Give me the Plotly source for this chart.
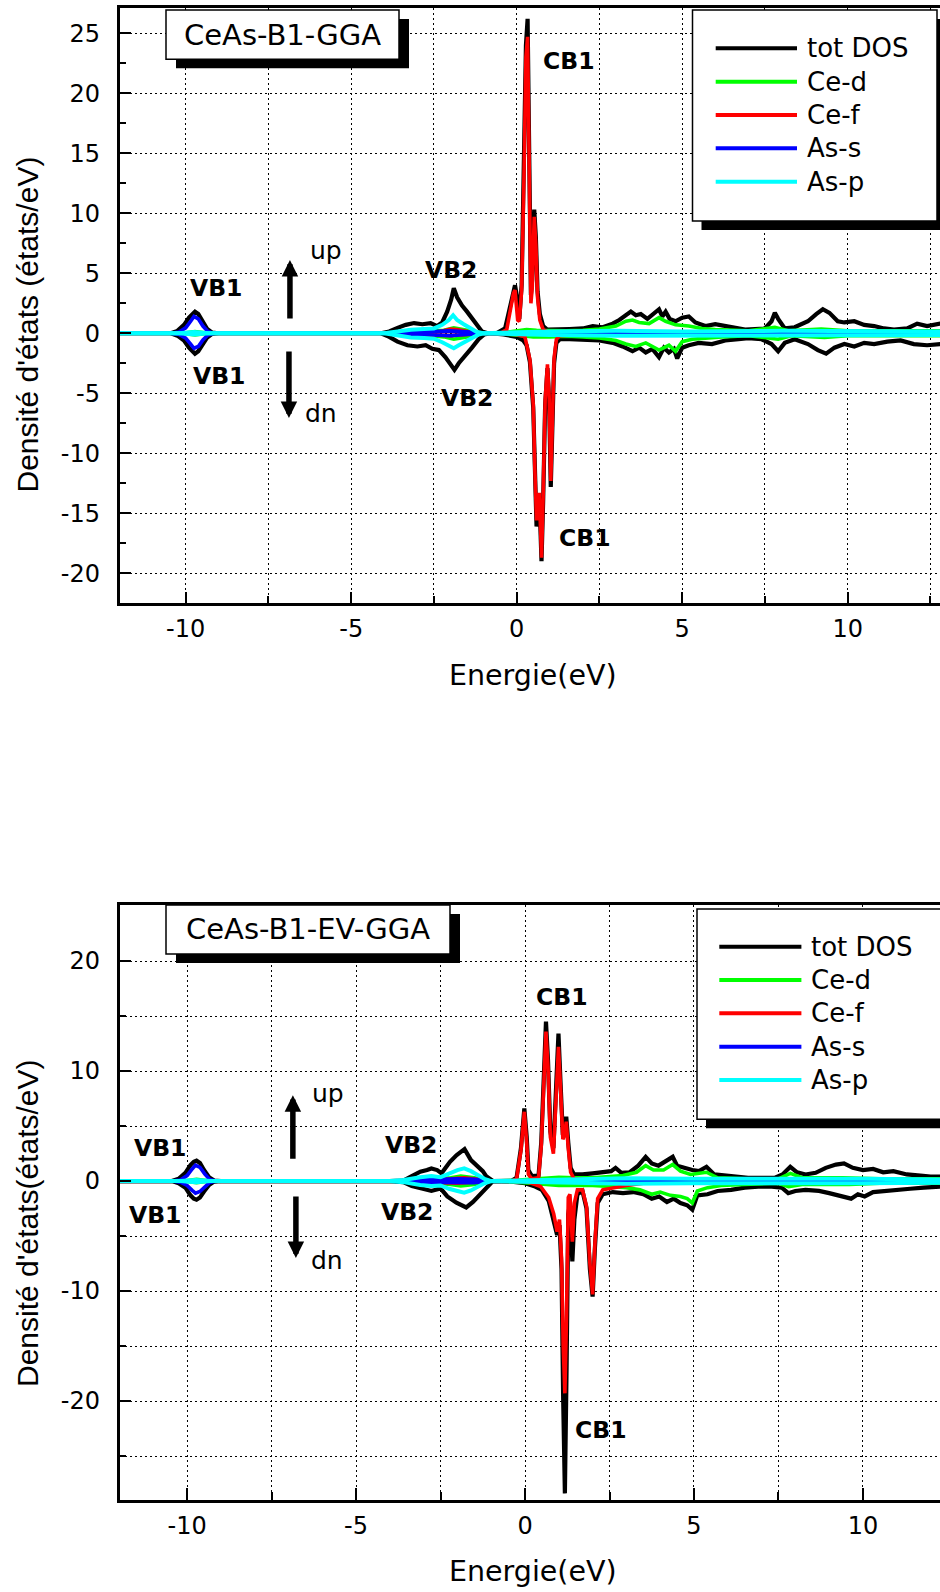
import plotly.graph_objects as go

# ---------------------------------------------------------------
# Spin-polarised DOS of CeAs (B1): GGA (top) and EV-GGA (bottom)
# each list holds (energy in eV, DOS in states/eV); dn spin < 0
# ---------------------------------------------------------------
components = ["tot DOS", "Ce-d", "Ce-f", "As-s", "As-p"]
colors = ["#000000", "#00ff00", "#ff0000", "#0000ff", "#00ffff"]
widths = [4.2, 3.6, 3.6, 3.6, 4.0]

# ----- GGA -----
gga_tot_up = [(-12, 0), (-10.45, 0), (-10.25, 0.2), (-10.05, 0.7), (-9.9, 1.3), (-9.8, 1.65), (-9.72, 1.8),
              (-9.62, 1.6), (-9.5, 1.0), (-9.35, 0.35), (-9.2, 0.05), (-9.0, 0),
              (-4.1, 0), (-3.85, 0.15), (-3.6, 0.45), (-3.35, 0.7), (-3.1, 0.85), (-2.85, 0.75), (-2.6, 0.85),
              (-2.4, 0.6), (-2.25, 0.9), (-2.1, 1.8), (-1.98, 2.8), (-1.9, 3.75), (-1.8, 3.0), (-1.65, 2.3),
              (-1.5, 1.8), (-1.35, 1.2), (-1.2, 0.6), (-1.05, 0.15), (-0.9, 0.02),
              (-0.6, 0.02), (-0.35, 0.4), (-0.2, 2.2), (-0.1, 3.6), (-0.05, 4.0), (0.0, 3.2), (0.03, 2.0),
              (0.08, 1.2), (0.15, 4.0), (0.22, 14), (0.28, 24), (0.33, 26.2), (0.38, 16), (0.43, 3.2),
              (0.47, 4.5), (0.53, 10.3), (0.58, 8.0), (0.63, 3.5), (0.7, 1.6), (0.8, 0.6), (0.92, 0.3),
              (1.2, 0.3), (1.6, 0.35), (2.0, 0.4), (2.3, 0.6), (2.6, 0.5), (2.9, 0.8), (3.1, 1.1), (3.3, 1.5),
              (3.45, 1.8), (3.6, 1.5), (3.75, 1.6), (3.95, 1.2), (4.15, 1.6), (4.3, 2.0), (4.4, 1.4),
              (4.5, 1.8), (4.62, 1.2), (4.8, 1.0), (5.0, 1.3), (5.2, 1.4), (5.4, 0.9), (5.7, 0.6), (6.0, 0.75),
              (6.3, 0.6), (6.6, 0.4), (6.9, 0.3), (7.2, 0.35), (7.5, 0.4), (7.7, 1.0), (7.8, 1.7), (7.9, 1.2),
              (8.1, 0.4), (8.4, 0.5), (8.8, 1.0), (9.05, 1.6), (9.25, 2.0), (9.45, 1.7), (9.7, 1.0),
              (9.9, 0.9), (10.2, 1.0), (10.5, 0.7), (10.8, 0.6), (11.1, 0.4), (11.4, 0.3), (11.8, 0.4),
              (12.1, 0.8), (12.4, 0.6), (12.8, 0.8)]
gga_tot_dn = [(-12, 0), (-10.45, 0), (-10.25, -0.2), (-10.05, -0.6), (-9.9, -1.2), (-9.8, -1.55), (-9.72, -1.7),
              (-9.62, -1.5), (-9.5, -0.95), (-9.35, -0.35), (-9.2, -0.05), (-9.0, 0),
              (-4.1, 0), (-3.85, -0.3), (-3.6, -0.7), (-3.3, -1.0), (-3.0, -1.1), (-2.75, -1.0), (-2.55, -1.3),
              (-2.35, -1.4), (-2.15, -2.0), (-2.0, -2.6), (-1.88, -3.05), (-1.75, -2.5), (-1.55, -1.9),
              (-1.35, -1.2), (-1.15, -0.5), (-0.98, -0.1), (-0.8, 0),
              (-0.4, -0.1), (0.0, -0.3), (0.2, -0.6), (0.3, -1.0), (0.4, -2.4), (0.5, -6.2), (0.55, -11.6),
              (0.6, -16.1), (0.64, -14.5), (0.68, -13.6), (0.72, -16.5), (0.75, -19.0), (0.8, -14),
              (0.86, -6), (0.93, -2.9), (0.98, -5.5), (1.03, -12.8), (1.08, -8), (1.13, -2.5), (1.2, -0.8),
              (1.3, -0.5), (1.6, -0.5), (2.0, -0.55), (2.5, -0.6), (2.9, -0.8), (3.2, -1.1), (3.5, -1.5),
              (3.7, -1.2), (3.9, -1.6), (4.1, -1.3), (4.3, -2.0), (4.45, -1.2), (4.6, -1.6), (4.75, -1.3),
              (4.85, -2.1), (5.0, -1.2), (5.2, -1.0), (5.5, -0.8), (5.9, -0.9), (6.3, -0.6), (6.7, -0.5),
              (7.0, -0.4), (7.4, -0.5), (7.7, -0.9), (7.9, -1.5), (8.1, -0.8), (8.4, -0.5), (8.8, -0.9),
              (9.1, -1.4), (9.35, -1.7), (9.6, -1.2), (9.9, -0.9), (10.2, -1.1), (10.5, -0.8), (10.8, -0.9),
              (11.2, -0.7), (11.6, -0.6), (12.0, -0.9), (12.4, -1.0), (12.8, -0.9)]
gga_ced_up = [(-12, 0), (-10.1, 0), (-9.72, 0.15), (-9.3, 0), (-4.0, 0), (-3.0, 0.1), (-2.2, 0.25), (-1.9, 0.45),
              (-1.5, 0.25), (-1.0, 0), (-0.4, 0.05), (0.0, 0.15), (0.3, 0.3), (0.6, 0.25), (1.0, 0.2),
              (1.5, 0.2), (2.0, 0.25), (2.5, 0.35), (3.0, 0.6), (3.3, 1.0), (3.5, 1.1), (3.7, 0.9), (4.0, 0.8),
              (4.3, 1.3), (4.5, 1.0), (4.8, 0.7), (5.2, 0.6), (5.6, 0.4), (6.0, 0.3), (7.0, 0.2), (7.8, 0.5),
              (8.2, 0.2), (9.2, 0.35), (10.0, 0.2), (11.0, 0.2), (12.8, 0.2)]
gga_ced_dn = [(-12, 0), (-10.1, 0), (-9.72, -0.15), (-9.3, 0), (-4.0, 0), (-3.0, -0.1), (-2.2, -0.3), (-1.9, -0.5),
              (-1.5, -0.3), (-1.0, 0), (-0.4, -0.05), (0.0, -0.15), (0.5, -0.3), (1.0, -0.3), (1.5, -0.25),
              (2.0, -0.3), (2.5, -0.4), (3.0, -0.6), (3.3, -0.9), (3.6, -1.1), (3.9, -0.8), (4.3, -1.4),
              (4.6, -1.0), (4.8, -1.5), (5.0, -0.7), (5.3, -0.5), (5.7, -0.4), (6.2, -0.3), (7.0, -0.2),
              (7.9, -0.5), (8.3, -0.2), (9.3, -0.35), (10.0, -0.2), (11.0, -0.2), (12.8, -0.2)]
gga_cef_up = [(-12, 0), (-4.0, 0), (-3.0, 0.05), (-2.3, 0.15), (-2.0, 0.35), (-1.8, 0.3), (-1.4, 0.1), (-1.0, 0),
              (-0.5, 0), (-0.3, 0.3), (-0.2, 1.8), (-0.1, 3.3), (-0.05, 3.6), (0.0, 2.4), (0.03, 1.1),
              (0.08, 1.0), (0.15, 3.6), (0.22, 13), (0.28, 23), (0.33, 24.7), (0.38, 15), (0.43, 2.5),
              (0.47, 3.8), (0.53, 9.7), (0.58, 7.4), (0.63, 3.0), (0.7, 1.1), (0.8, 0.3), (0.95, 0.1),
              (2.0, 0.05), (12.8, 0.02)]
gga_cef_dn = [(-12, 0), (-4.0, 0), (-2.0, -0.2), (-1.0, 0), (0.0, -0.1), (0.25, -0.3), (0.4, -2.2), (0.5, -5.9),
              (0.55, -11.4), (0.6, -15.6), (0.64, -14.0), (0.68, -13.3), (0.72, -16.2), (0.75, -18.7),
              (0.8, -13.6), (0.86, -5.6), (0.93, -2.6), (0.98, -5.2), (1.03, -12.3), (1.08, -7.6),
              (1.13, -2.1), (1.2, -0.5), (1.3, -0.2), (2.0, -0.1), (12.8, -0.02)]
gga_ass_up = [(-12, 0), (-10.45, 0), (-10.2, 0.1), (-10.0, 0.45), (-9.85, 1.0), (-9.75, 1.4), (-9.62, 1.2),
              (-9.48, 0.6), (-9.33, 0.15), (-9.15, 0), (-4.0, 0), (-3.3, 0.08), (-2.5, 0.12), (-2.0, 0.2),
              (-1.5, 0.12), (-1.0, 0), (0, 0.02), (3.0, 0.05), (5.0, 0.05), (7.9, 0.1), (9.3, 0.1), (12.8, 0.05)]
gga_ass_dn = [(-12, 0), (-10.45, 0), (-10.2, -0.1), (-10.0, -0.4), (-9.85, -0.9), (-9.75, -1.25), (-9.62, -1.1),
              (-9.48, -0.55), (-9.33, -0.15), (-9.15, 0), (-4.0, 0), (-3.3, -0.1), (-2.5, -0.15), (-2.0, -0.2),
              (-1.5, -0.12), (-1.0, 0), (0, -0.02), (3.0, -0.05), (5.0, -0.08), (7.9, -0.1), (9.3, -0.1),
              (12.8, -0.05)]
gga_asp_up = [(-12, 0), (-10.2, 0), (-9.75, 0.1), (-9.3, 0), (-4.0, 0), (-3.6, 0.15), (-3.2, 0.3), (-2.8, 0.35),
              (-2.5, 0.4), (-2.25, 0.7), (-2.05, 1.1), (-1.92, 1.5), (-1.8, 1.1), (-1.6, 0.75), (-1.4, 0.4),
              (-1.2, 0.1), (-1.0, 0), (0.3, 0.1), (1.0, 0.15), (3.0, 0.2), (5.0, 0.15), (8.0, 0.2),
              (10.0, 0.2), (12.8, 0.15)]
gga_asp_dn = [(-12, 0), (-10.2, 0), (-9.75, -0.1), (-9.3, 0), (-4.0, 0), (-3.6, -0.15), (-3.2, -0.35),
              (-2.8, -0.4), (-2.5, -0.45), (-2.25, -0.75), (-2.05, -1.0), (-1.9, -1.25), (-1.75, -1.0),
              (-1.55, -0.7), (-1.35, -0.35), (-1.15, -0.1), (-1.0, 0), (0.3, -0.1), (1.0, -0.15), (3.0, -0.2),
              (5.0, -0.2), (8.0, -0.2), (10.0, -0.2), (12.8, -0.15)]

# ----- EV-GGA -----
ev_tot_up = [(-12, 0), (-10.45, 0), (-10.25, 0.2), (-10.05, 0.75), (-9.9, 1.45), (-9.8, 1.75), (-9.72, 1.85),
             (-9.62, 1.65), (-9.5, 1.0), (-9.35, 0.35), (-9.2, 0.05), (-9.0, 0),
             (-4.0, 0), (-3.6, 0.05), (-3.35, 0.45), (-3.1, 0.85), (-2.9, 1.0), (-2.77, 1.15), (-2.6, 1.0),
             (-2.47, 0.7), (-2.35, 1.2), (-2.22, 1.75), (-2.03, 2.35), (-1.9, 2.6), (-1.79, 2.9), (-1.6, 1.9),
             (-1.4, 1.3), (-1.25, 0.9), (-1.15, 0.45), (-0.95, 0),
             (-0.4, 0.02), (-0.25, 0.3), (-0.12, 3.0), (-0.02, 6.6), (0.05, 4.0), (0.1, 1.0), (0.2, 0.45),
             (0.4, 0.5), (0.48, 3.5), (0.55, 10), (0.62, 14.5), (0.68, 11), (0.75, 4.5), (0.84, 3.0),
             (0.92, 9), (0.99, 13.4), (1.05, 9), (1.12, 4.2), (1.17, 4.6), (1.22, 5.85), (1.28, 3.5),
             (1.35, 1.2), (1.45, 0.6),
             (1.7, 0.6), (2.0, 0.7), (2.35, 0.8), (2.55, 0.9), (2.68, 1.2), (2.85, 0.75), (3.1, 0.8),
             (3.35, 1.4), (3.57, 2.2), (3.75, 1.6), (3.95, 1.4), (4.15, 1.8), (4.37, 2.2), (4.5, 1.4),
             (4.7, 1.2), (4.95, 1.0), (5.15, 0.9), (5.37, 1.3), (5.6, 0.6), (5.9, 0.5), (6.2, 0.4), (6.6, 0.3),
             (7.0, 0.3), (7.4, 0.3), (7.62, 0.6), (7.85, 1.3), (8.05, 0.8), (8.3, 0.6), (8.6, 0.75),
             (8.9, 1.2), (9.2, 1.5), (9.44, 1.6), (9.7, 1.2), (10.0, 1.0), (10.3, 1.1), (10.6, 0.8),
             (10.9, 0.9), (11.3, 0.6), (11.7, 0.5), (12.0, 0.4), (12.3, 0.4)]
ev_tot_dn = [(-12, 0), (-10.45, 0), (-10.25, -0.2), (-10.05, -0.6), (-9.9, -1.3), (-9.8, -1.6), (-9.72, -1.7),
             (-9.62, -1.5), (-9.5, -0.95), (-9.35, -0.35), (-9.2, -0.05), (-9.0, 0),
             (-4.0, 0), (-3.6, -0.1), (-3.35, -0.45), (-3.1, -0.67), (-2.77, -0.9), (-2.5, -0.67),
             (-2.3, -1.4), (-2.03, -1.97), (-1.9, -2.2), (-1.74, -2.4), (-1.54, -1.9), (-1.35, -1.3),
             (-1.1, -0.6), (-0.95, 0),
             (-0.4, -0.05), (0.0, -0.2), (0.3, -0.5), (0.5, -0.8), (0.7, -1.8), (0.85, -3.5), (0.95, -4.9),
             (1.02, -4.0), (1.08, -8), (1.13, -20), (1.18, -28.4), (1.23, -17), (1.28, -3), (1.33, -2.0),
             (1.4, -7.3), (1.46, -3.5), (1.55, -1.2), (1.7, -0.9), (1.82, -2.5), (1.92, -8), (2.0, -10.5),
             (2.07, -6), (2.15, -2), (2.3, -1.2), (2.6, -1.0), (2.9, -1.1),
             (3.2, -1.0), (3.5, -1.2), (3.75, -1.6), (3.97, -1.4), (4.2, -1.9), (4.4, -1.6), (4.6, -2.0),
             (4.8, -2.2), (4.95, -2.6), (5.1, -1.3), (5.4, -1.2), (5.7, -0.9), (6.1, -0.8), (6.5, -0.6),
             (6.9, -0.5), (7.3, -0.5), (7.6, -0.6), (7.79, -1.1), (8.0, -0.9), (8.3, -0.8), (8.7, -0.9),
             (9.0, -1.1), (9.3, -1.3), (9.65, -1.6), (9.85, -1.2), (10.05, -1.4), (10.3, -1.0), (10.6, -0.9),
             (11.0, -0.8), (11.4, -0.7), (11.8, -0.6), (12.3, -0.5)]
ev_ced_up = [(-12, 0), (-10.1, 0), (-9.72, 0.15), (-9.3, 0), (-4.0, 0), (-3.0, 0.1), (-2.2, 0.3), (-1.9, 0.45),
             (-1.5, 0.3), (-1.0, 0), (-0.4, 0.05), (0.0, 0.15), (0.5, 0.3), (1.0, 0.35), (1.5, 0.3), (2.0, 0.3),
             (2.5, 0.4), (2.9, 0.5), (3.3, 0.8), (3.57, 1.4), (3.8, 1.0), (4.1, 1.0), (4.37, 1.5), (4.6, 0.9),
             (4.9, 0.6), (5.37, 0.8), (5.7, 0.3), (6.5, 0.2), (7.5, 0.2), (7.85, 0.7), (8.2, 0.3), (9.4, 0.3),
             (10.5, 0.2), (12.3, 0.2)]
ev_ced_dn = [(-12, 0), (-10.1, 0), (-9.72, -0.15), (-9.3, 0), (-4.0, 0), (-3.0, -0.1), (-2.2, -0.3),
             (-1.9, -0.45), (-1.5, -0.3), (-1.0, 0), (-0.4, -0.05), (0.0, -0.15), (0.5, -0.3), (1.0, -0.4),
             (1.5, -0.4), (2.0, -0.4), (2.5, -0.5), (3.0, -0.6), (3.4, -0.8), (3.75, -1.2), (4.0, -1.0),
             (4.3, -1.3), (4.6, -1.4), (4.8, -1.6), (4.95, -2.0), (5.1, -0.9), (5.4, -0.6), (5.8, -0.4),
             (6.5, -0.3), (7.5, -0.2), (7.8, -0.5), (8.2, -0.3), (9.6, -0.3), (10.5, -0.2), (12.3, -0.2)]
ev_cef_up = [(-12, 0), (-4.0, 0), (-3.0, 0.05), (-2.2, 0.2), (-1.8, 0.3), (-1.4, 0.15), (-1.0, 0), (-0.4, 0),
             (-0.25, 0.2), (-0.12, 2.8), (-0.02, 6.3), (0.05, 3.5), (0.1, 0.6), (0.2, 0.2), (0.4, 0.3),
             (0.48, 3.2), (0.55, 9.5), (0.62, 13.6), (0.68, 10.4), (0.75, 4.0), (0.84, 2.5), (0.92, 8.5),
             (0.99, 12.2), (1.05, 8.5), (1.12, 3.8), (1.17, 4.2), (1.22, 5.4), (1.28, 3.0), (1.35, 0.8),
             (1.45, 0.2), (2.0, 0.1), (12.3, 0.02)]
ev_cef_dn = [(-12, 0), (-4.0, 0), (-2.0, -0.2), (-1.0, 0), (0.0, -0.05), (0.2, -0.2), (0.46, -0.5), (0.7, -1.5),
             (0.85, -3.0), (0.95, -4.6), (1.02, -3.5), (1.08, -7), (1.13, -15), (1.18, -19.3), (1.23, -12),
             (1.28, -1.5), (1.33, -1.2), (1.4, -5.5), (1.46, -2.0), (1.55, -0.8), (1.7, -0.8), (1.82, -2.3),
             (1.92, -7.5), (2.0, -10.3), (2.07, -5.6), (2.15, -1.6), (2.3, -0.8), (2.6, -0.6), (3.0, -0.4),
             (3.5, -0.2), (5.0, -0.1), (12.3, -0.02)]
ev_ass_up = [(-12, 0), (-10.45, 0), (-10.2, 0.1), (-10.0, 0.5), (-9.85, 1.1), (-9.75, 1.45), (-9.62, 1.25),
             (-9.48, 0.65), (-9.33, 0.15), (-9.15, 0), (-4.0, 0), (-3.3, 0.1), (-2.5, 0.15), (-2.0, 0.2),
             (-1.5, 0.15), (-1.0, 0), (0, 0.02), (3.0, 0.05), (7.85, 0.1), (9.4, 0.1), (12.3, 0.05)]
ev_ass_dn = [(-12, 0), (-10.45, 0), (-10.2, -0.1), (-10.0, -0.4), (-9.85, -0.85), (-9.75, -1.1), (-9.62, -0.95),
             (-9.48, -0.5), (-9.33, -0.12), (-9.15, 0), (-4.0, 0), (-3.3, -0.1), (-2.5, -0.15), (-2.0, -0.2),
             (-1.5, -0.15), (-1.0, 0), (0, -0.02), (3.0, -0.05), (7.85, -0.1), (9.4, -0.1), (12.3, -0.05)]
ev_asp_up = [(-12, 0), (-10.2, 0), (-9.75, 0.1), (-9.3, 0), (-4.0, 0), (-3.6, 0.1), (-3.1, 0.35), (-2.77, 0.45),
             (-2.5, 0.35), (-2.25, 0.7), (-2.0, 1.0), (-1.8, 1.15), (-1.6, 0.9), (-1.4, 0.55), (-1.2, 0.2),
             (-1.0, 0), (0.3, 0.1), (1.0, 0.15), (3.0, 0.25), (5.0, 0.2), (7.85, 0.25), (10.0, 0.2),
             (12.3, 0.15)]
ev_asp_dn = [(-12, 0), (-10.2, 0), (-9.75, -0.1), (-9.3, 0), (-4.0, 0), (-3.6, -0.1), (-3.1, -0.35),
             (-2.77, -0.45), (-2.5, -0.4), (-2.25, -0.7), (-2.0, -0.9), (-1.8, -1.06), (-1.6, -0.85),
             (-1.4, -0.5), (-1.2, -0.2), (-1.0, 0), (0.3, -0.1), (1.0, -0.15), (3.0, -0.25), (5.0, -0.2),
             (7.85, -0.25), (10.0, -0.2), (12.3, -0.15)]

x_tickvals = [-10, -5, 0, 5, 10]
x_ticktext = ["-10", "-5", "0", "5", "10"]
x_minor = [-7.5, -2.5, 2.5, 7.5, 12.5]
gga_y_tickvals = [-20, -15, -10, -5, 0, 5, 10, 15, 20, 25]
gga_y_ticktext = ["-20", "-15", "-10", "-5", "0", "5", "10", "15", "20", "25"]
gga_y_minor = [-22.5, -17.5, -12.5, -7.5, -2.5, 2.5, 7.5, 12.5, 17.5, 22.5]
ev_y_tickvals = [-20, -10, 0, 10, 20]
ev_y_ticktext = ["-20", "-10", "0", "10", "20"]
ev_y_minor = [-25, -15, -5, 5, 15]

panels = [
    ("x", "y", [gga_tot_up, gga_ced_up, gga_cef_up, gga_ass_up, gga_asp_up],
     [gga_tot_dn, gga_ced_dn, gga_cef_dn, gga_ass_dn, gga_asp_dn]),
    ("x2", "y2", [ev_tot_up, ev_ced_up, ev_cef_up, ev_ass_up, ev_asp_up],
     [ev_tot_dn, ev_ced_dn, ev_cef_dn, ev_ass_dn, ev_asp_dn]),
]

W, H = 940, 1592


def fx(p):
    return p / W


def fy(p):
    return 1 - p / H


fig = go.Figure()
for xa, ya, ups, dns in panels:
    for name, col, lw, up, dn in zip(components, colors, widths, ups, dns):
        for spin, series in (("up", up), ("dn", dn)):
            e, d = zip(*series)
            fig.add_trace(go.Scatter(
                x=list(e), y=list(d), mode="lines", name=f"{name} {spin}",
                line=dict(color=col, width=lw), xaxis=xa, yaxis=ya, showlegend=False,
                hoverinfo="skip"))

tickfont = dict(family="DejaVu Sans", size=24, color="black")
grid = dict(showgrid=True, gridcolor="black", gridwidth=1, griddash="2px,3px")


def xaxis_cfg(rng, anchor):
    return dict(domain=[fx(119.5), 1.0], range=rng, anchor=anchor, showline=True, linewidth=2.5,
                linecolor="black", mirror=True, ticks="inside", ticklen=12, tickwidth=2, tickcolor="black",
                tickvals=x_tickvals, ticktext=x_ticktext, tickfont=tickfont, zeroline=False,
                ticklabelstandoff=2, **grid,
                minor=dict(tickvals=x_minor, ticks="inside", ticklen=8, tickwidth=2, tickcolor="black",
                           showgrid=True, gridcolor="black", gridwidth=1, griddash="2px,3px"))


fig.update_layout(
    width=W, height=H, margin=dict(l=0, r=0, t=0, b=0),
    paper_bgcolor="white", plot_bgcolor="white", showlegend=False,
    xaxis=xaxis_cfg([-12, 12.79], "y"),
    yaxis=dict(domain=[fy(603.3), fy(8)], range=[-22.5, 27.1], anchor="x", showline=True, linewidth=2.5,
               linecolor="black", ticks="inside", ticklen=12, tickwidth=2, tickcolor="black",
               tickvals=gga_y_tickvals, ticktext=gga_y_ticktext, tickfont=tickfont, zeroline=False,
               ticklabelstandoff=12, **grid,
               minor=dict(tickvals=gga_y_minor, ticks="inside", ticklen=7, tickwidth=2, tickcolor="black",
                          showgrid=False)),
    xaxis2=xaxis_cfg([-12, 12.28], "y2"),
    yaxis2=dict(domain=[fy(1500), fy(905)], range=[-29.0, 25.1], anchor="x2", showline=True, linewidth=2.5,
                linecolor="black", ticks="inside", ticklen=12, tickwidth=2, tickcolor="black",
                tickvals=ev_y_tickvals, ticktext=ev_y_ticktext, tickfont=tickfont, zeroline=False,
                ticklabelstandoff=12, **grid,
                minor=dict(tickvals=ev_y_minor, ticks="inside", ticklen=7, tickwidth=2, tickcolor="black",
                           showgrid=True, gridcolor="black", gridwidth=1, griddash="2px,3px")),
)

shapes = []
annotations = []

# framed captions with drop shadow
captions = [("CeAs-B1-GGA", (166, 10, 399, 59.3)), ("CeAs-B1-EV-GGA", (166, 905, 450, 954))]
for text, (x0, y0, x1, y1) in captions:
    shapes.append(dict(type="rect", xref="paper", yref="paper", x0=fx(x0 + 10), x1=fx(x1 + 10),
                       y0=fy(y1 + 9), y1=fy(y0 + 9), fillcolor="black", line=dict(width=0), layer="above"))
    shapes.append(dict(type="rect", xref="paper", yref="paper", x0=fx(x0), x1=fx(x1), y0=fy(y1), y1=fy(y0),
                       fillcolor="white", line=dict(color="black", width=1.5), layer="above"))
    annotations.append(dict(text=text, xref="paper", yref="paper", x=fx((x0 + x1) / 2), y=fy((y0 + y1) / 2),
                            showarrow=False, xanchor="center", yanchor="middle",
                            font=dict(family="DejaVu Sans", size=29, color="black")))

# legend boxes
legends = [((692.5, 10, 937, 221), 715.7, 797, 805, [48.3, 81.7, 115, 148.3, 181.7]),
           ((697, 909, 948, 1119.3), 719.3, 801.4, 808.6, [946.7, 980, 1013.3, 1046.7, 1080])]
for (x0, y0, x1, y1), lx0, lx1, tx, rows in legends:
    shapes.append(dict(type="rect", xref="paper", yref="paper", x0=fx(x0 + 9), x1=fx(x1 + 9),
                       y0=fy(y1 + 9), y1=fy(y0 + 9), fillcolor="black", line=dict(width=0), layer="above"))
    shapes.append(dict(type="rect", xref="paper", yref="paper", x0=fx(x0), x1=fx(x1), y0=fy(y1), y1=fy(y0),
                       fillcolor="white", line=dict(color="black", width=1.5), layer="above"))
    for name, col, ry in zip(components, colors, rows):
        shapes.append(dict(type="line", xref="paper", yref="paper", x0=fx(lx0), x1=fx(lx1), y0=fy(ry),
                           y1=fy(ry), line=dict(color=col, width=4), layer="above"))
        annotations.append(dict(text=name, xref="paper", yref="paper", x=fx(tx), y=fy(ry), showarrow=False,
                                xanchor="left", yanchor="middle",
                                font=dict(family="DejaVu Sans", size=26, color="black")))

# band labels (energy, DOS)
bold = dict(family="DejaVu Sans", size=23.5, color="black", weight="bold")
band_labels = [
    ("x", "y", [("VB1", -9.08, 3.75), ("VB1", -9.0, -3.6), ("VB2", -1.99, 5.3), ("VB2", -1.49, -5.4),
                ("CB1", 1.58, 22.7), ("CB1", 2.05, -17.1)]),
    ("x2", "y2", [("VB1", -10.8, 2.97), ("VB1", -10.95, -3.1), ("VB2", -3.36, 3.27), ("VB2", -3.5, -2.8),
                  ("CB1", 1.09, 16.75), ("CB1", 2.26, -22.6)]),
]
for xa, ya, items in band_labels:
    for text, e, d in items:
        annotations.append(dict(text=text, xref=xa, yref=ya, x=e, y=d, showarrow=False,
                                xanchor="center", yanchor="middle", font=bold))

# spin arrows: (text, text E, text D, arrow E, tail D, tip D)
spin_marks = [
    ("x", "y", [("up", -5.77, 6.9, -6.85, 1.1, 6.1), ("dn", -5.92, -6.67, -6.88, -1.4, -7.06)]),
    ("x2", "y2", [("up", -5.83, 7.97, -6.87, 1.9, 7.8), ("dn", -5.87, -7.2, -6.78, -1.27, -7.0)]),
]
for xa, ya, items in spin_marks:
    for text, te, td, ae, tail, tip in items:
        annotations.append(dict(text=text, xref=xa, yref=ya, x=te, y=td, showarrow=False,
                                xanchor="center", yanchor="middle",
                                font=dict(family="DejaVu Sans", size=25, color="black")))
        annotations.append(dict(text="", xref=xa, yref=ya, x=ae, y=tip, axref=xa, ayref=ya, ax=ae, ay=tail,
                                showarrow=True, arrowhead=2, arrowsize=0.6, arrowwidth=5.5,
                                arrowcolor="black", standoff=0, startstandoff=0))

# axis titles
for (cx, cy) in [(533, 675), (533, 1571)]:
    annotations.append(dict(text="Energie(eV)", xref="paper", yref="paper", x=fx(cx), y=fy(cy),
                            showarrow=False, xanchor="center", yanchor="middle",
                            font=dict(family="DejaVu Sans", size=28.5, color="black")))
for text, (cx, cy) in [("Densité d'états (états/eV)", (27, 324.5)), ("Densité d'états(états/eV)", (27, 1223))]:
    annotations.append(dict(text=text, xref="paper", yref="paper", x=fx(cx), y=fy(cy), showarrow=False,
                            textangle=-90, xanchor="center", yanchor="middle",
                            font=dict(family="Liberation Sans", size=30, color="black")))

fig.update_layout(shapes=shapes, annotations=annotations)
fig.write_html("out.html")
